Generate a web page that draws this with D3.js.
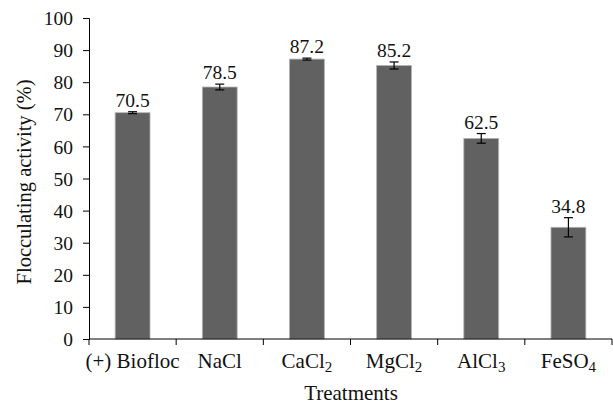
<!DOCTYPE html>
<html>
<head>
<meta charset="utf-8">
<script src="https://cdn.jsdelivr.net/npm/d3@7"></script>
<style>
  body { margin: 0; background: #fff; }
  text { font-family: "Liberation Serif", "DejaVu Serif", serif; fill: #111; }
</style>
</head>
<body>
<div class="chartdiv"></div>
<script>
const WIDTH = 613, HEIGHT = 406;
const margin = { top: 18, right: 1, bottom: 67, left: 89 };

// treatments, base name + subscript
const categories = ["(+) Biofloc", "NaCl", "CaCl2", "MgCl2", "AlCl3", "FeSO4"];
const labelParts = [["(+) Biofloc", ""], ["NaCl", ""], ["CaCl", "2"], ["MgCl", "2"], ["AlCl", "3"], ["FeSO", "4"]];
const values = [70.5, 78.5, 87.2, 85.2, 62.5, 34.8];
const errors = [0.3, 0.9, 0.3, 1.1, 1.5, 3.0];
const yTicks = [0, 10, 20, 30, 40, 50, 60, 70, 80, 90, 100];

const svg = d3.select(".chartdiv")
  .append("svg")
  .attr("width", WIDTH)
  .attr("height", HEIGHT);

const x = d3.scaleBand()
  .domain(categories)
  .range([margin.left, WIDTH - margin.right])
  .paddingInner(0.6)
  .paddingOuter(0.3);

const y = d3.scaleLinear()
  .domain([0, 100])
  .range([HEIGHT - margin.bottom, margin.top]);

// bars
svg.selectAll("rect.bar")
  .data(values)
  .enter()
  .append("rect")
  .attr("class", "bar")
  .attr("x", (d, i) => x(categories[i]))
  .attr("y", d => y(d))
  .attr("width", x.bandwidth())
  .attr("height", d => y(0) - y(d))
  .attr("fill", "#606160")
  .attr("stroke", "#b4b4b4")
  .attr("stroke-width", 0.8);

// error bars
const eb = svg.selectAll("g.err")
  .data(values)
  .enter()
  .append("g")
  .attr("class", "err")
  .attr("stroke", "#000")
  .attr("stroke-width", 1.2);

eb.append("line")
  .attr("x1", (d, i) => x(categories[i]) + x.bandwidth() / 2)
  .attr("x2", (d, i) => x(categories[i]) + x.bandwidth() / 2)
  .attr("y1", (d, i) => y(d + errors[i]))
  .attr("y2", (d, i) => y(d - errors[i]));
[1, -1].forEach(s => {
  eb.append("line")
    .attr("x1", (d, i) => x(categories[i]) + x.bandwidth() / 2 - 4.5)
    .attr("x2", (d, i) => x(categories[i]) + x.bandwidth() / 2 + 4.5)
    .attr("y1", (d, i) => y(d + s * errors[i]))
    .attr("y2", (d, i) => y(d + s * errors[i]));
});

// value labels
svg.selectAll("text.val")
  .data(values)
  .enter()
  .append("text")
  .attr("class", "val")
  .attr("x", (d, i) => x(categories[i]) + x.bandwidth() / 2)
  .attr("y", (d, i) => y(d + errors[i]) - 5)
  .attr("text-anchor", "middle")
  .attr("font-size", 19.5)
  .text(d => d.toFixed(1));

// y axis
const yAxis = svg.append("g")
  .attr("transform", `translate(${margin.left},0)`)
  .call(d3.axisLeft(y).tickValues(yTicks).tickSize(6).tickPadding(10));
yAxis.selectAll("text")
  .attr("font-size", 19.5)
  .attr("dy", "0.34em")
  .style("font-family", "Liberation Serif")
  .attr("fill", "#111");
yAxis.select(".domain").attr("stroke", "#000");

// x axis with ticks on band boundaries
const xAxis = svg.append("g")
  .attr("transform", `translate(0,${HEIGHT - margin.bottom})`);
xAxis.append("line")
  .attr("x1", margin.left).attr("x2", WIDTH - margin.right)
  .attr("stroke", "#000");
const bounds = d3.range(categories.length + 1).map(i => margin.left + i * (WIDTH - margin.right - margin.left) / categories.length);
xAxis.selectAll("line.tick")
  .data(bounds)
  .enter()
  .append("line")
  .attr("class", "tick")
  .attr("x1", d => d).attr("x2", d => d)
  .attr("y1", 0).attr("y2", 6)
  .attr("stroke", "#000");

const xl = xAxis.selectAll("text.cat")
  .data(labelParts)
  .enter()
  .append("text")
  .attr("class", "cat")
  .attr("x", (d, i) => x(categories[i]) + x.bandwidth() / 2)
  .attr("y", 29)
  .attr("text-anchor", "middle")
  .attr("font-size", 21);
xl.append("tspan").text(d => d[0]);
xl.append("tspan")
  .attr("font-size", 15)
  .attr("dy", 4)
  .text(d => d[1]);

// axis titles
svg.append("text")
  .attr("transform", `translate(31,182) rotate(-90)`)
  .attr("text-anchor", "middle")
  .attr("font-size", 20.5)
  .text("Flocculating activity (%)");

svg.append("text")
  .attr("x", 351)
  .attr("y", 400)
  .attr("text-anchor", "middle")
  .attr("font-size", 21)
  .text("Treatments");
</script>
</body>
</html>
